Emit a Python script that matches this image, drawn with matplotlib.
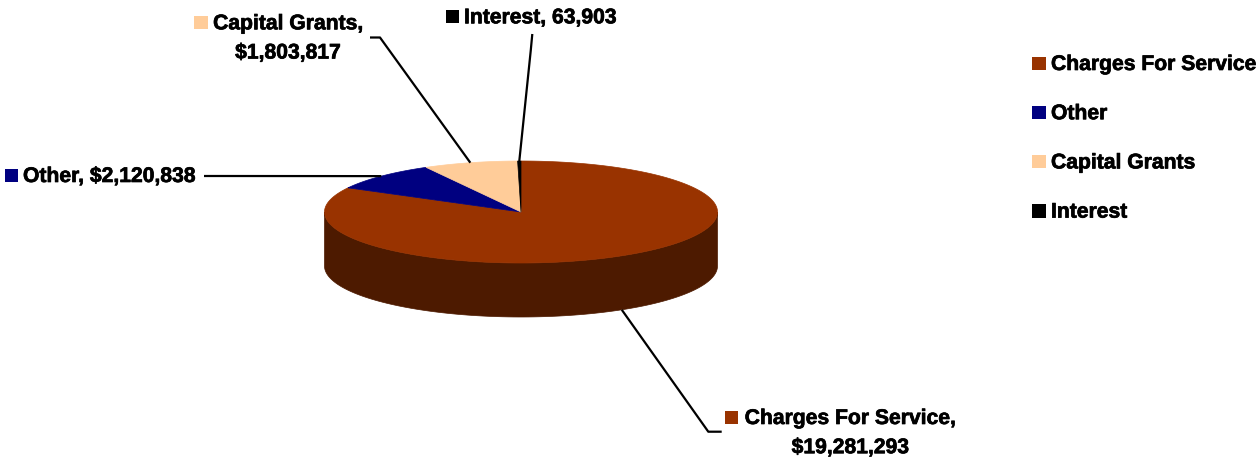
import matplotlib
matplotlib.use('Agg')
import matplotlib.pyplot as plt
import matplotlib.patheffects as pe
from matplotlib.patches import Polygon, Rectangle
import numpy as np

# revenue sources, in pie order (clockwise from 12 o'clock)
categories = ['Charges For Service', 'Other', 'Capital Grants', 'Interest']
values = [19281293, 2120838, 1803817, 63903]
value_prefix = ['$', '$', '$', '']
colors = ['#993300', '#000080', '#FFCC99', '#000000']
side_colors = ['#4D1A00', '#000040', '#806650', '#000000']

W, H = 1259, 458
FONT = dict(family='Liberation Sans', weight='bold', size=15.2, color='black',
            path_effects=[pe.withStroke(linewidth=0.5, foreground='black')])

# pie geometry, in pixels
cx, cy = 521, 212
rx, ry = 196.5, 51
depth = 54


def rim(theta, dz=0.0):
    t = np.radians(theta)
    return cx + rx * np.cos(t), cy - ry * np.sin(t) + dz


def slice_angles(vals, start=90.0):
    tot = float(sum(vals))
    out = []
    for v in vals:
        w = 360.0 * v / tot
        out.append((start - w, start))
        start -= w
    return out


def front_part(a0, a1):
    # portion of [a0, a1] lying on the near half of the disc (180..360)
    for k in range(-2, 3):
        lo, hi = 180 + 360 * k, 360 + 360 * k
        s, e = max(a0, lo), min(a1, hi)
        if e > s:
            return s, e
    return None


fig = plt.figure(figsize=(W / 100, H / 100), dpi=100)
ax = fig.add_axes([0, 0, 1, 1])
ax.set_xlim(0, W)
ax.set_ylim(H, 0)
ax.axis('off')

angles = slice_angles(values)

# side wall
for (a0, a1), sc in zip(angles, side_colors):
    part = front_part(a0, a1)
    if part is None:
        continue
    th = np.linspace(part[0], part[1], 120)
    top = np.column_stack(rim(th))
    bot = np.column_stack(rim(th[::-1], depth))
    ax.add_patch(Polygon(np.vstack([top, bot]), closed=True,
                         facecolor=sc, edgecolor=sc, lw=0.5))

# top face
for (a0, a1), c in zip(angles, colors):
    n = max(int(abs(a1 - a0)) * 2, 4)
    th = np.linspace(a0, a1, n)
    pts = np.vstack([[cx, cy], np.column_stack(rim(th))])
    ax.add_patch(Polygon(pts, closed=True, facecolor=c, edgecolor=c, lw=0.5))

# data labels: (line-1 center x, first baseline, key square x, leader start points)
label_layout = {
    'Charges For Service': (850.5, 424.0, 725.0, [(721.7, 431.7), (708.3, 431.7)]),
    'Other': (110.0, 182.0, 5.0, [(204.0, 176.0), (218.0, 176.0)]),
    'Capital Grants': (288.0, 29.3, 194.3, [(370.0, 37.5), (380.0, 37.5)]),
    'Interest': (533.0, 23.3, 446.0, [(532.3, 34.0), (530.8, 50.0)]),
}
two_line = {'Charges For Service', 'Capital Grants'}

for name, v, pre, c, (a0, a1) in zip(categories, values, value_prefix,
                                     colors, angles):
    mx, by, sx, lead = label_layout[name]
    mid = 0.5 * (a0 + a1)
    if np.sin(np.radians(mid)) < 0:
        end = rim(mid, depth)
    else:
        end = rim(mid)
    xs = [p[0] for p in lead] + [end[0]]
    ys = [p[1] for p in lead] + [end[1]]
    ax.plot(xs, ys, color='black', lw=1.6, solid_capstyle='butt')

    val = '{0}{1:,}'.format(pre, v)
    ax.add_patch(Rectangle((sx, by - 13.5), 13.5, 13.5, facecolor=c,
                           edgecolor='none'))
    if name in two_line:
        ax.text(mx, by, name + ',', ha='center', va='baseline', **FONT)
        ax.text(mx, by + 29.2, val, ha='center', va='baseline', **FONT)
    else:
        ax.text(sx + 18, by, '{0}, {1}'.format(name, val), ha='left',
                va='baseline', **FONT)

# legend
for i, (name, c) in enumerate(zip(categories, colors)):
    by = 70.0 + 49.2 * i
    ax.add_patch(Rectangle((1032.3, by - 13.4), 13.4, 13.4, facecolor=c,
                           edgecolor='none'))
    ax.text(1051, by, name, ha='left', va='baseline', **FONT)

fig.savefig('out.png', dpi=100)
